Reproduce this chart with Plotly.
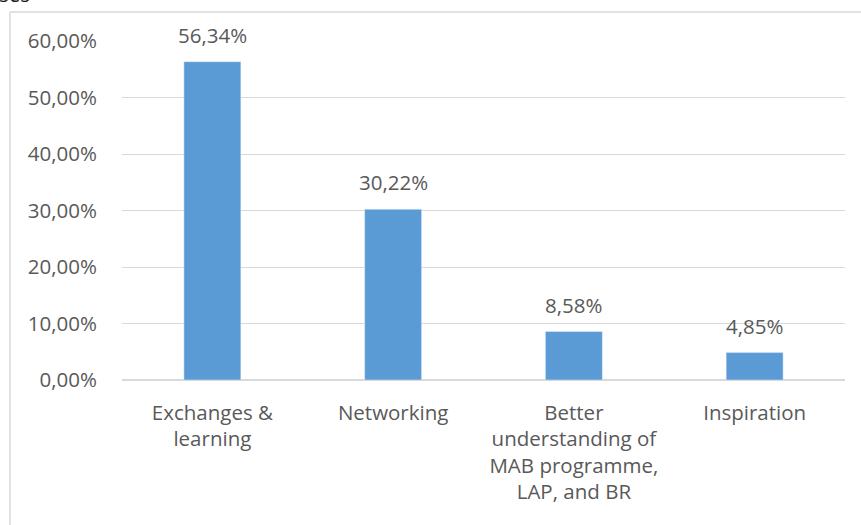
import plotly.graph_objects as go

categories = [
    "Exchanges &<br>learning",
    "Networking",
    "Better<br>understanding of<br>MAB programme,<br>LAP, and BR",
    "Inspiration",
]
shares = [0.5634, 0.3022, 0.0858, 0.0485]
y_ticks = [0, 0.1, 0.2, 0.3, 0.4, 0.5, 0.6]

grey = "#595959"
line_grey = "#d9d9d9"
font = "Open Sans"
fs = 20.5

fig = go.Figure(
    go.Bar(
        x=categories,
        y=shares,
        marker_color="#5b9bd5",
        width=0.315,
        cliponaxis=False,
    )
)

# data labels above the bars
for c, v in zip(categories, shares):
    fig.add_annotation(
        x=c, y=v, text=f"{v * 100:.2f}%".replace(".", ","),
        xanchor="center", yanchor="bottom", yshift=11, showarrow=False,
        font=dict(size=fs, color=grey, family=font),
    )

# plot area is 723 x 339 px; outer chart border sits a little outside it
L, R, T, B = 122, 16, 41, 145
pw, ph = 861 - L - R, 525 - T - B
bx = (10 - L) / pw
by = (525 - B - 12) / ph
fig.add_shape(type="line", xref="paper", yref="paper", x0=bx, x1=bx, y0=by, y1=-2,
              line=dict(color=line_grey, width=1.5))
fig.add_shape(type="line", xref="paper", yref="paper", x0=bx, x1=2, y0=by, y1=by,
              line=dict(color=line_grey, width=1.5))

fig.add_annotation(
    text="ses", xref="paper", yref="paper",
    x=(-3 - L) / pw, y=(525 - B - 10) / ph,
    xanchor="left", yanchor="bottom", showarrow=False,
    font=dict(size=fs, color="#1a1a1a", family=font),
)

fig.update_layout(
    width=861,
    height=525,
    margin=dict(l=L, r=R, t=T, b=B),
    plot_bgcolor="white",
    paper_bgcolor="white",
    showlegend=False,
    font=dict(family=font, size=fs, color=grey),
    bargap=0.685,
)
fig.update_yaxes(
    range=[0, 0.6],
    tickvals=y_ticks,
    ticktext=[f"{v * 100:.2f}%".replace(".", ",") for v in y_ticks],
    gridcolor=line_grey,
    gridwidth=1.3,
    zeroline=True,
    zerolinecolor=line_grey,
    zerolinewidth=2,
    showline=False,
    ticklabelstandoff=24,
    tickfont=dict(size=fs, color=grey),
)
fig.update_xaxes(
    showline=False,
    ticks="",
    ticklabelstandoff=18,
    tickfont=dict(size=fs, color=grey),
)

fig.write_html(
    "out.html",
    config={"displayModeBar": False},
    post_script="document.body.style.margin='0';document.body.style.overflow='hidden';",
)
